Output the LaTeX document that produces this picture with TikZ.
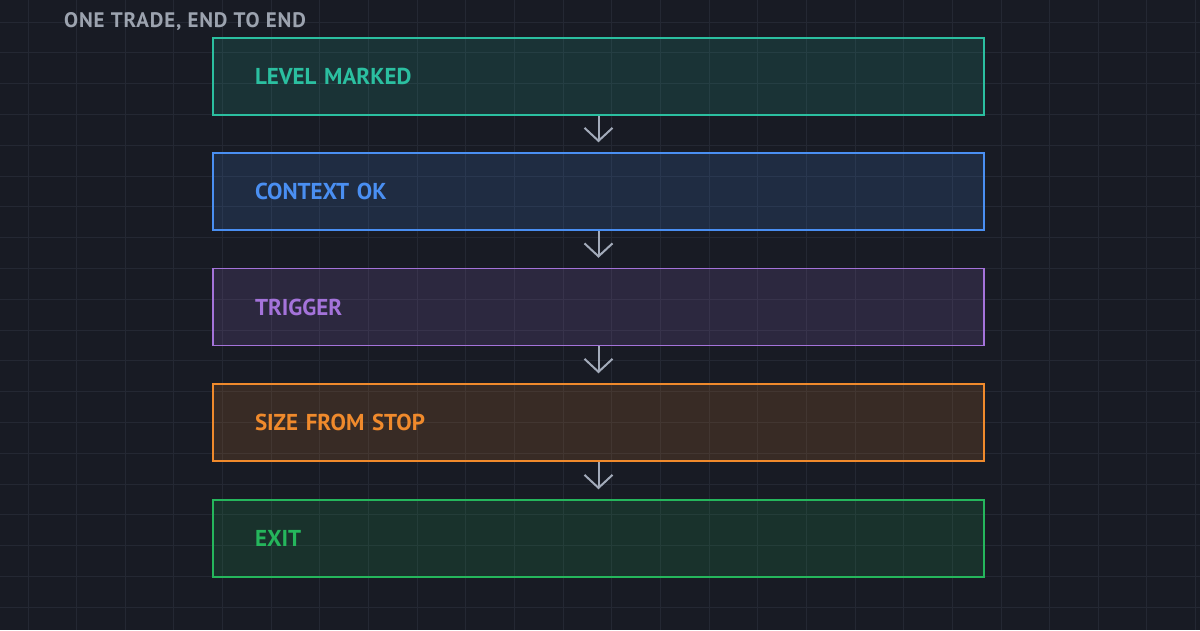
\documentclass[tikz,border=0pt]{standalone}
\usepackage{fontspec}
\setmainfont{PT Sans}
\usetikzlibrary{arrows.meta}

\definecolor{bg}{HTML}{181B24}
\definecolor{gridc}{HTML}{242833}
\definecolor{titlec}{HTML}{9CA3AF}
\definecolor{arrowc}{HTML}{A3ABBA}
\definecolor{teal}{HTML}{2BBFA0}
\definecolor{bluec}{HTML}{4A8FF2}
\definecolor{purplec}{HTML}{A473DA}
\definecolor{orangec}{HTML}{F08A2C}
\definecolor{greenc}{HTML}{25B65C}

\begin{document}
\begin{tikzpicture}[x=1pt, y=-1pt,
    stage/.style={draw=#1, fill=#1, fill opacity=.15, text opacity=1, text=#1,
        line width=1.5pt, minimum height=77pt, text width=687pt, inner xsep=42pt,
        align=left, font=\bfseries\fontsize{23}{27}\selectfont},
    flow/.style={draw=arrowc, line width=2pt, shorten >=10pt,
        -{Straight Barb[length=13pt, width=28pt, line width=2pt]}}]
    \useasboundingbox (0,0) rectangle (1200,630);
    \fill[bg] (0,0) rectangle (1200,630);
    \foreach \i in {0,...,24} \draw[gridc, line width=1pt] (28+48.65*\i,0) -- (28+48.65*\i,630);
    \foreach \j in {0,...,19} \draw[gridc, line width=1pt] (0,22+30.8*\j) -- (1200,22+30.8*\j);

    \draw (64,21.5) node[anchor=west, text=titlec, inner sep=0pt,
        font=\bfseries\fontsize{21}{25}\selectfont\addfontfeature{LetterSpace=4}] (title) {ONE TRADE, END TO END};

    \draw (598.5,76.5) node[stage=teal] (level) {LEVEL MARKED};
    \draw (598.5,191.5) node[stage=bluec] (context) {CONTEXT OK};
    \draw (598.5,307) node[stage=purplec] (trigger) {TRIGGER};
    \draw (598.5,422.5) node[stage=orangec] (size) {SIZE FROM STOP};
    \draw (598.5,538.5) node[stage=greenc] (exit) {EXIT};

    \draw[flow] (level) -- (context);
    \draw[flow] (context) -- (trigger);
    \draw[flow] (trigger) -- (size);
    \draw[flow] (size) -- (exit);
\end{tikzpicture}
\end{document}
